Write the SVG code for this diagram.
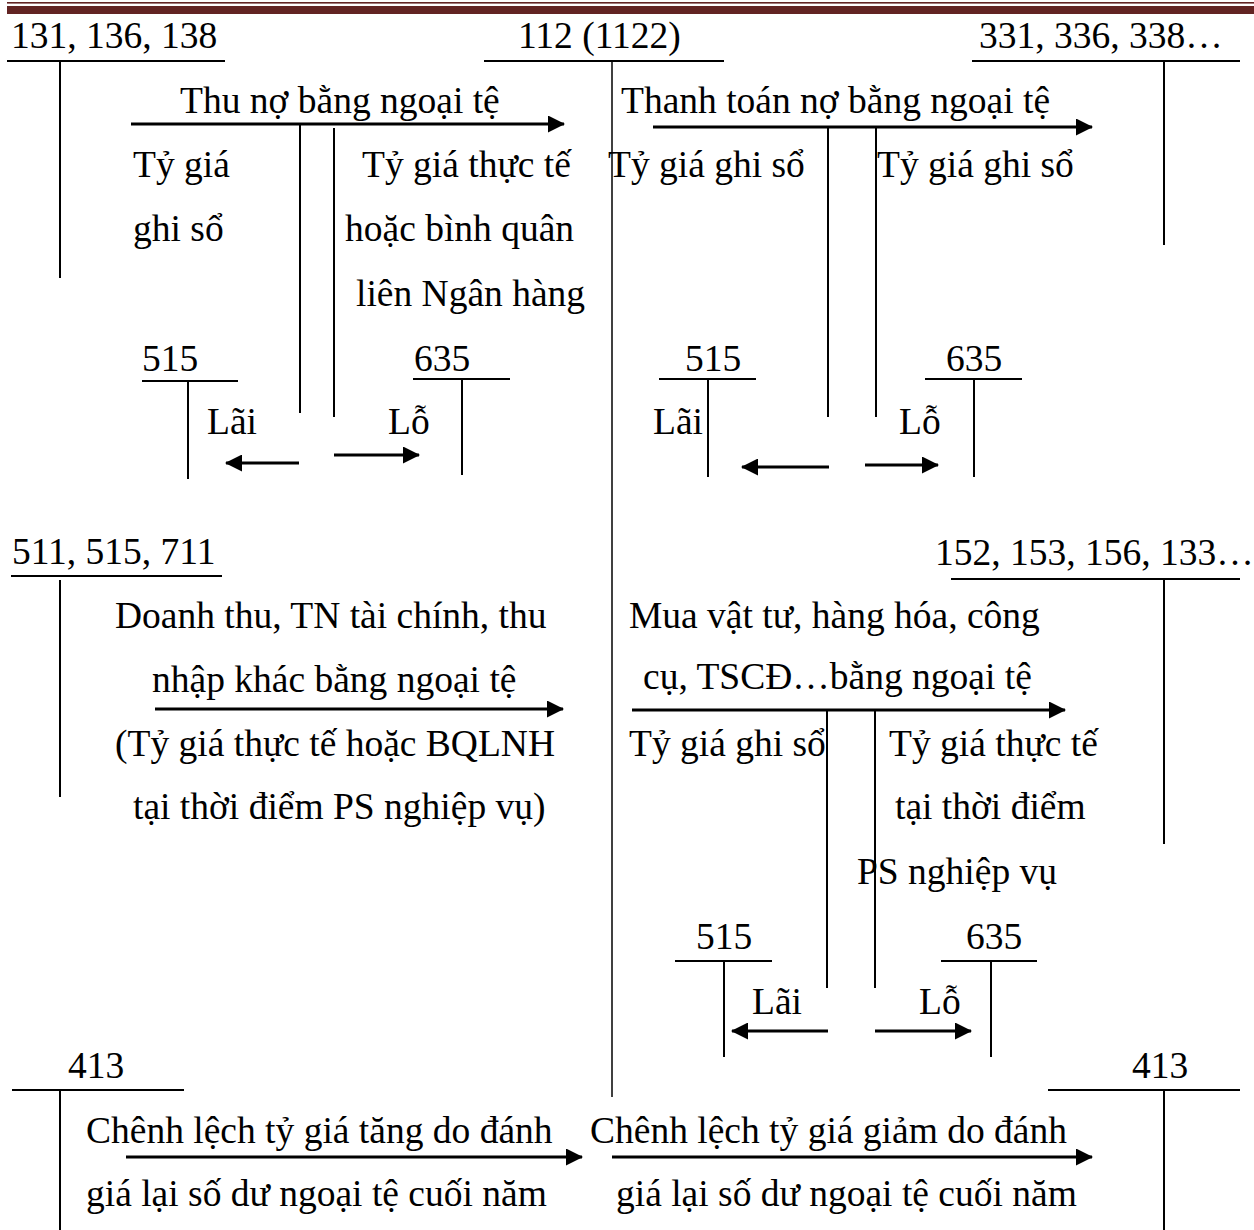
<svg xmlns="http://www.w3.org/2000/svg" width="1254" height="1230" viewBox="0 0 1254 1230">
<style>
text{font-family:"Liberation Serif","Times New Roman",serif;font-size:37.5px;fill:#000}
.t{stroke:#000;stroke-width:2;fill:none}
.tv{stroke:#000;stroke-width:2;fill:none}
.br{stroke:#000;stroke-width:2;fill:none}
.ar{stroke:#000;stroke-width:3;fill:none;marker-end:url(#ah)}
</style>
<defs>
<marker id="ah" viewBox="0 0 17 17" refX="16" refY="8.5" markerWidth="17" markerHeight="17" markerUnits="userSpaceOnUse" orient="auto">
<path d="M0,0 L17,8.5 L0,17 z" fill="#000"/>
</marker>
</defs>
<rect width="1254" height="1230" fill="#fff"/>
<g id="header">
<rect x="7" y="2" width="1247" height="1.6" fill="#622423"/>
<rect x="7" y="6" width="1247" height="8" fill="#622423"/>
</g>

<g id="acc-131">
<text x="11" y="48">131, 136, 138</text>
<line class="t" x1="7" y1="61" x2="225" y2="61"/>
<line class="tv" x1="60" y1="61" x2="60" y2="278"/>
</g>
<g id="acc-112">
<text x="518" y="48">112 (1122)</text>
<line class="t" x1="484" y1="61" x2="724" y2="61"/>
<line class="tv" x1="612" y1="61" x2="612" y2="1097" style="stroke-width:1.5"/>
</g>
<g id="acc-331">
<text x="979" y="48">331, 336, 338…</text>
<line class="t" x1="972" y1="61" x2="1240" y2="61"/>
<line class="tv" x1="1164" y1="61" x2="1164" y2="245"/>
</g>

<g id="acc-515-a">
<text x="142" y="371">515</text>
<line class="t" x1="142" y1="381" x2="238" y2="381"/>
<line class="tv" x1="188" y1="381" x2="188" y2="479"/>
</g>
<g id="acc-635-a">
<text x="414" y="371">635</text>
<line class="t" x1="413" y1="379" x2="510" y2="379"/>
<line class="tv" x1="462" y1="379" x2="462" y2="475"/>
</g>
<g id="acc-515-b">
<text x="685" y="371">515</text>
<line class="t" x1="659" y1="379" x2="756" y2="379"/>
<line class="tv" x1="708" y1="379" x2="708" y2="477"/>
</g>
<g id="acc-635-b">
<text x="946" y="371">635</text>
<line class="t" x1="925" y1="379" x2="1022" y2="379"/>
<line class="tv" x1="974" y1="379" x2="974" y2="477"/>
</g>

<g id="acc-511">
<text x="12" y="564">511, 515, 711</text>
<line class="t" x1="11" y1="576" x2="222" y2="576"/>
<line class="tv" x1="60" y1="580" x2="60" y2="797"/>
</g>
<g id="acc-152">
<text x="935" y="565">152, 153, 156, 133…</text>
<line class="t" x1="951" y1="579" x2="1240" y2="579"/>
<line class="tv" x1="1164" y1="579" x2="1164" y2="844"/>
</g>
<g id="acc-515-c">
<text x="696" y="949">515</text>
<line class="t" x1="675" y1="961" x2="772" y2="961"/>
<line class="tv" x1="724" y1="961" x2="724" y2="1057"/>
</g>
<g id="acc-635-c">
<text x="966" y="949">635</text>
<line class="t" x1="941" y1="961" x2="1037" y2="961"/>
<line class="tv" x1="991" y1="961" x2="991" y2="1057"/>
</g>

<g id="acc-413-a">
<text x="68" y="1078">413</text>
<line class="t" x1="12" y1="1090" x2="184" y2="1090"/>
<line class="tv" x1="60" y1="1090" x2="60" y2="1230"/>
</g>
<g id="acc-413-b">
<text x="1132" y="1078">413</text>
<line class="t" x1="1048" y1="1090" x2="1240" y2="1090"/>
<line class="tv" x1="1164" y1="1090" x2="1164" y2="1230"/>
</g>

<g id="connectors">
<line class="ar" x1="131" y1="124" x2="564" y2="124"/>
<line class="br" x1="300" y1="124" x2="300" y2="413"/>
<line class="br" x1="334" y1="128" x2="334" y2="417"/>
<line class="ar" x1="299" y1="463" x2="226" y2="463"/>
<line class="ar" x1="334" y1="455" x2="419" y2="455"/>
<line class="ar" x1="653" y1="127" x2="1092" y2="127"/>
<line class="br" x1="828" y1="127" x2="828" y2="417"/>
<line class="br" x1="876" y1="127" x2="876" y2="417"/>
<line class="ar" x1="829" y1="467" x2="742" y2="467"/>
<line class="ar" x1="865" y1="465" x2="938" y2="465"/>
<line class="ar" x1="155" y1="709" x2="563" y2="709"/>
<line class="ar" x1="632" y1="710" x2="1065" y2="710"/>
<line class="br" x1="827" y1="710" x2="827" y2="988"/>
<line class="br" x1="875" y1="710" x2="875" y2="988"/>
<line class="ar" x1="828" y1="1031" x2="732" y2="1031"/>
<line class="ar" x1="875" y1="1031" x2="971" y2="1031"/>
<line class="ar" x1="126" y1="1157" x2="582" y2="1157"/>
<line class="ar" x1="612" y1="1157" x2="1092" y2="1157"/>
</g>

<g id="labels">
<text x="180" y="113">Thu nợ bằng ngoại tệ</text>
<text x="133" y="177">Tỷ giá</text>
<text x="133" y="241">ghi sổ</text>
<text x="362" y="177">Tỷ giá thực tế</text>
<text x="345" y="241">hoặc bình quân</text>
<text x="356" y="306">liên Ngân hàng</text>
<text x="207" y="434">Lãi</text>
<text x="388" y="434">Lỗ</text>

<text x="621" y="113">Thanh toán nợ bằng ngoại tệ</text>
<text x="608" y="177">Tỷ giá ghi sổ</text>
<text x="877" y="177">Tỷ giá ghi sổ</text>
<text x="653" y="434">Lãi</text>
<text x="899" y="434">Lỗ</text>

<text x="115" y="628">Doanh thu, TN tài chính, thu</text>
<text x="152" y="692">nhập khác bằng ngoại tệ</text>
<text x="115" y="756">(Tỷ giá thực tế hoặc BQLNH</text>
<text x="133" y="819">tại thời điểm PS nghiệp vụ)</text>

<text x="629" y="628">Mua vật tư, hàng hóa, công</text>
<text x="643" y="689">cụ, TSCĐ…bằng ngoại tệ</text>
<text x="629" y="756">Tỷ giá ghi sổ</text>
<text x="889" y="756">Tỷ giá thực tế</text>
<text x="895" y="819">tại thời điểm</text>
<text x="857" y="884">PS nghiệp vụ</text>
<text x="752" y="1014">Lãi</text>
<text x="919" y="1014">Lỗ</text>

<text x="86" y="1143">Chênh lệch tỷ giá tăng do đánh</text>
<text x="86" y="1206">giá lại số dư ngoại tệ cuối năm</text>
<text x="590" y="1143">Chênh lệch tỷ giá giảm do đánh</text>
<text x="616" y="1206">giá lại số dư ngoại tệ cuối năm</text>
</g>
</svg>
